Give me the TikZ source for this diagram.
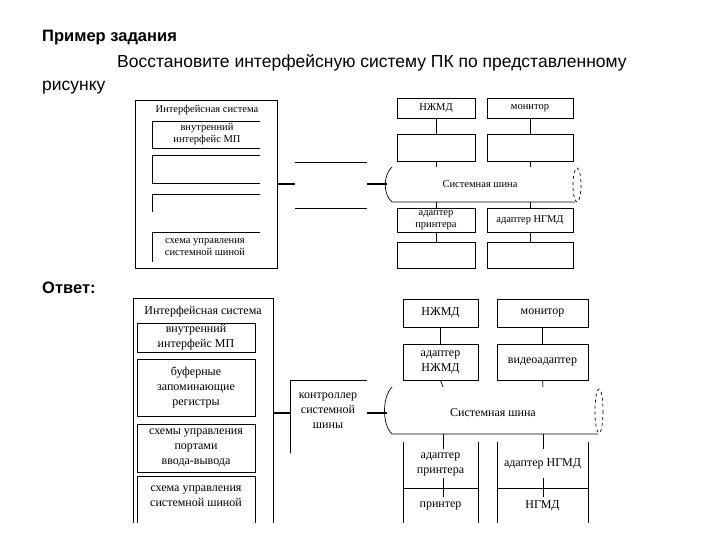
\documentclass[tikz,border=0pt]{standalone}
\usepackage{fontspec}
\setmainfont{Liberation Serif}
\newfontfamily\hdr{Liberation Sans}
\begin{document}
\begin{tikzpicture}[x=1pt,y=-1pt,
  lbl/.style={font=\fontsize{10.5}{11.5}\selectfont,align=center,inner sep=0pt},
  lbb/.style={font=\fontsize{12}{15}\selectfont,align=center,inner sep=0pt},
  bx/.style={draw,line width=0.7pt},
  ln/.style={line width=0.7pt},
  thick line/.style={line width=2pt},
  hd/.style={font=\hdr\fontsize{17.5}{20}\selectfont,anchor=west,inner sep=0pt}]
\useasboundingbox (0,0) rectangle (720,540);
% header
\node[hd,font=\hdr\bfseries\fontsize{16.5}{20}\selectfont] (t1) at (42,38) {Пример задания};
\node[hd] (t2) at (117,63) {Восстановите интерфейсную систему ПК по представленному};
\node[hd] (t3) at (42,88) {рисунку};
\node[hd,font=\hdr\bfseries\fontsize{16.5}{20}\selectfont] (t4) at (42,288) {Ответ:};

% ===== top diagram =====
\draw[ln] (277,100) -- (135,100) -- (135,268) -- (277,268) -- cycle;
\node[lbl] (is1) at (207,110) {Интерфейсная система};
\node[lbl] (a1) at (207,134) {внутренний\\интерфейс МП};
\draw[ln] (260,121) -- (152,121) -- (152,148) -- (260,148);
\draw[ln] (260,155) -- (152,155) -- (152,183) -- (260,183);
\draw[ln] (260,194) -- (152,194) -- (152,212);
\draw[ln] (260,232) -- (152,232) -- (152,262);
\node[lbl] (a4) at (205,247) {схема управления\\системной шиной};
\coordinate (c1) at (277,184); \coordinate (c2) at (295,184);
\draw[thick line] (c1) -- (c2);
\draw[ln] (295,162) -- (367,162); \draw[ln] (295,208) -- (367,208);
\coordinate (c3) at (367,184); \coordinate (c4) at (387,184);
\draw[thick line] (c3) -- (c4);
\draw[ln] (392,167) .. controls (383,175) and (383,195) .. (392,202) -- (575,202);
\draw[ln,dashed] (577,185) ellipse (4 and 17);
\node[lbl] (bus1) at (480,184) {Системная шина};
\node[bx,minimum width=78,minimum height=20,lbl] (n1) at (436,108) {НЖМД};
\node[bx,minimum width=86,minimum height=20,lbl] (m1) at (530,108) {монитор};
\node[bx,minimum width=78,minimum height=27] (n2) at (436,147.5) {};
\node[bx,minimum width=86,minimum height=27] (m2) at (530,147.5) {};
\node[bx,minimum width=78,minimum height=24,lbl] (n3) at (436,220) {адаптер\\принтера};
\node[bx,minimum width=86,minimum height=24,lbl] (m3) at (530,220) {адаптер НГМД};
\node[bx,minimum width=78,minimum height=26] (n4) at (436,255) {};
\node[bx,minimum width=86,minimum height=26] (m4) at (530,255) {};
\foreach \a/\b in {n1/n2,m1/m2,n3/n4,m3/m4}{\draw[ln] (\a) -- (\b);}
\draw[ln] (n2.south) -- (436,167); \draw[ln] (m2.south) -- (530,167);
\draw[ln] (n3.north) -- (436,202); \draw[ln] (m3.north) -- (530,202);

% ===== bottom diagram =====
\draw[ln] (133,523) -- (133,298) -- (273,298) -- (273,523);
\node[lbb] (is2) at (203,312) {Интерфейсная система};
\node[bx,minimum width=118,minimum height=29,lbb] (b1) at (196,337.5) {внутренний\\интерфейс МП};
\node[bx,minimum width=118,minimum height=57,lbb] (b2) at (196,387.5) {буферные\\запоминающие\\регистры};
\node[bx,minimum width=118,minimum height=48,lbb] (b3) at (196,448) {схемы управления\\портами\\ввода-вывода};
\draw[ln] (137,523) -- (137,476) -- (255,476) -- (255,523);
\node[lbb] (b4) at (196,496) {схема управления\\системной шиной};
\coordinate (d1) at (273,413); \coordinate (d2) at (290,413);
\draw[thick line] (d1) -- (d2);
\draw[ln] (290,453) -- (290,380) -- (367,380);
\node[lbb] (ctl) at (328,411) {контроллер\\системной\\шины};
\coordinate (d3) at (367,413); \coordinate (d4) at (387,413);
\draw[thick line] (d3) -- (d4);
\draw[ln] (392,387) .. controls (382,397) and (382,425) .. (392,434) -- (598,434);
\draw[ln,dashed] (599,411) ellipse (4 and 22);
\node[lbb] (bus2) at (493,413) {Системная шина};
\node[bx,minimum width=75,minimum height=28,lbb] (p1) at (440.5,313) {НЖМД};
\node[bx,minimum width=91,minimum height=28,lbb] (q1) at (542.5,313) {монитор};
\node[bx,minimum width=75,minimum height=36,lbb] (p2) at (440.5,362) {адаптер\\НЖМД};
\node[bx,minimum width=91,minimum height=36,lbb] (q2) at (542.5,362) {видеоадаптер};
\draw[ln] (403,442) -- (403,488) -- (478,488) -- (478,442);
\draw[ln] (497,442) -- (497,488) -- (588,488) -- (588,442);
\node[lbb] (p3) at (440.5,464) {адаптер\\принтера};
\node[lbb] (q3) at (542.5,464) {адаптер НГМД};
\draw[ln] (403,523) -- (403,488); \draw[ln] (478,523) -- (478,488);
\draw[ln] (497,523) -- (497,488); \draw[ln] (588,523) -- (588,488);
\node[lbb] (p4) at (440.5,506) {принтер};
\node[lbb] (q4) at (542.5,506) {НГМД};
\draw[ln] (p1) -- (p2); \draw[ln] (q1) -- (q2);
\draw[ln] (p2.south) -- (443,387); \draw[ln] (q2.south) -- (543,387);
\draw[ln] (443,434) -- (443,449); \draw[ln] (543,434) -- (543,449);
\draw[ln] (443,478) -- (443,497); \draw[ln] (543,478) -- (543,497);
\end{tikzpicture}
\end{document}
